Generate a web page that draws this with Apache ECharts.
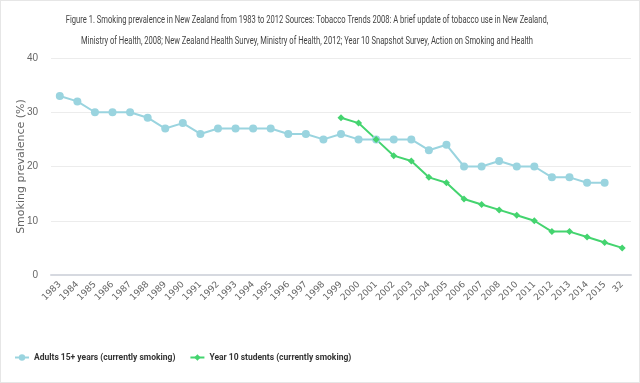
<!DOCTYPE html>
<html><head><meta charset="utf-8">
<script src="https://cdn.jsdelivr.net/npm/echarts@6/dist/echarts.min.js"></script>
<style>html,body{margin:0;padding:0;background:#fff}#c{width:638px;height:381px;border:1px solid #e6e6e6}</style>
</head><body><div id="c"></div>
<script>
const categories = ['1983','1984','1985','1986','1987','1988','1989','1990','1991','1992','1993','1994','1995','1996','1997','1998','1999','2000','2001','2002','2003','2004','2005','2006','2007','2008','2010','2011','2012','2013','2014','2015','32'];
const adults = [33,32,30,30,30,29,27,28,26,27,27,27,27,26,26,25,26,25,25,25,25,23,24,20,20,21,20,20,18,18,17,17,null];
const year10 = [null,null,null,null,null,null,null,null,null,null,null,null,null,null,null,null,29,28,25,22,21,18,17,14,13,12,11,10,8,8,7,6,5];
const yTicks = [0,10,20,30,40];
const titleLines = ['Figure 1. Smoking prevalence in New Zealand from 1983 to 2012 Sources: Tobacco Trends 2008: A brief update of tobacco use in New Zealand,','Ministry of Health, 2008; New Zealand Health Survey, Ministry of Health, 2012; Year 10 Snapshot Survey, Action on Smoking and Health'];
const seriesNames = ['Adults 15+ years (currently smoking)','Year 10 students (currently smoking)'];
const chart = echarts.init(document.getElementById('c'));
chart.setOption({
  animation:false,
  graphic:[
    {type:'text',x:306,y:19,scaleX:0.66,style:{text:titleLines[0],font:'11.5px Roboto',fill:'#444',textAlign:'center',textVerticalAlign:'middle'}},
    {type:'text',x:306,y:40,scaleX:0.66,style:{text:titleLines[1],font:'11.5px Roboto',fill:'#444',textAlign:'center',textVerticalAlign:'middle'}}
  ],
  legend:{left:8,top:347,itemGap:14,itemWidth:14,itemHeight:8,textStyle:{fontFamily:'Roboto',fontSize:8.5,fontWeight:'bold',color:'#333'},data:seriesNames},
  grid:{left:50,right:8,top:57,bottom:107,containLabel:false,outerBoundsMode:'none'},
  xAxis:{type:'category',data:categories,boundaryGap:true,
    axisLine:{lineStyle:{color:'#d6d9e0',width:2}},axisTick:{lineStyle:{color:'#d6d9e0'},length:6},
    axisLabel:{rotate:45,fontSize:9,color:'#666',margin:8,interval:0,fontFamily:'"DejaVu Sans",sans-serif'}},
  yAxis:{type:'value',min:yTicks[0],max:yTicks[yTicks.length-1],interval:10,
    name:'Smoking prevalence (%)',nameLocation:'middle',nameGap:24,nameMoveOverlap:false,nameTextStyle:{fontSize:11,color:'#666',fontFamily:'"DejaVu Sans",sans-serif'},
    axisLabel:{fontSize:10,color:'#666',margin:13},axisLine:{show:false},axisTick:{show:false},
    splitLine:{lineStyle:{color:'#ececec'}}},
  series:[
    {name:seriesNames[0],type:'line',data:adults,symbol:'circle',symbolSize:8,lineStyle:{width:2,color:'#9ad4df'},itemStyle:{color:'#9ad4df'}},
    {name:seriesNames[1],type:'line',data:year10,symbol:'diamond',symbolSize:7,lineStyle:{width:2,color:'#44d46f'},itemStyle:{color:'#44d46f'}}
  ]
});
</script></body></html>
